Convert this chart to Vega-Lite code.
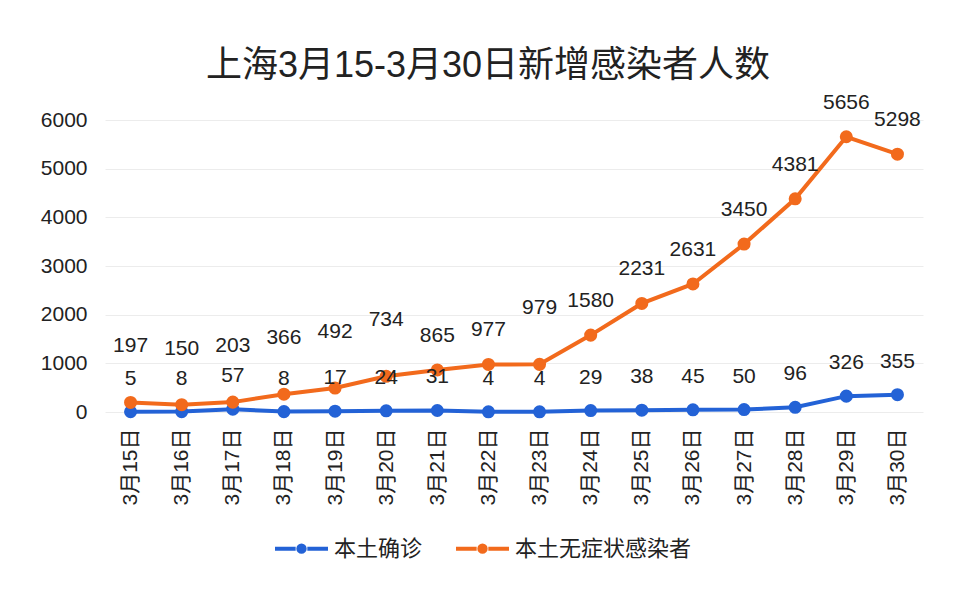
{
  "$schema": "https://vega.github.io/schema/vega-lite/v6.json",
  "width": 818,
  "height": 292,
  "autosize": {"type": "none"},
  "padding": {"left": 105, "top": 120, "right": 47, "bottom": 191},
  "background": "white",
  "title": {
    "text": "上海3月15-3月30日新增感染者人数",
    "font": "Liberation Sans, Noto Sans CJK SC",
    "fontSize": 36,
    "fontWeight": "normal",
    "color": "#222222",
    "anchor": "middle",
    "dx": -26,
    "offset": 7
  },
  "config": {
    "font": "Liberation Sans, Noto Sans CJK SC",
    "view": {"stroke": null}
  },
  "data": {
    "values": [
      {"date": "3月15日", "day": 15, "series": "本土确诊", "value": 5},
      {"date": "3月16日", "day": 16, "series": "本土确诊", "value": 8},
      {"date": "3月17日", "day": 17, "series": "本土确诊", "value": 57},
      {"date": "3月18日", "day": 18, "series": "本土确诊", "value": 8},
      {"date": "3月19日", "day": 19, "series": "本土确诊", "value": 17},
      {"date": "3月20日", "day": 20, "series": "本土确诊", "value": 24},
      {"date": "3月21日", "day": 21, "series": "本土确诊", "value": 31},
      {"date": "3月22日", "day": 22, "series": "本土确诊", "value": 4},
      {"date": "3月23日", "day": 23, "series": "本土确诊", "value": 4},
      {"date": "3月24日", "day": 24, "series": "本土确诊", "value": 29},
      {"date": "3月25日", "day": 25, "series": "本土确诊", "value": 38},
      {"date": "3月26日", "day": 26, "series": "本土确诊", "value": 45},
      {"date": "3月27日", "day": 27, "series": "本土确诊", "value": 50},
      {"date": "3月28日", "day": 28, "series": "本土确诊", "value": 96},
      {"date": "3月29日", "day": 29, "series": "本土确诊", "value": 326},
      {"date": "3月30日", "day": 30, "series": "本土确诊", "value": 355},
      {"date": "3月15日", "day": 15, "series": "本土无症状感染者", "value": 197},
      {"date": "3月16日", "day": 16, "series": "本土无症状感染者", "value": 150},
      {"date": "3月17日", "day": 17, "series": "本土无症状感染者", "value": 203},
      {"date": "3月18日", "day": 18, "series": "本土无症状感染者", "value": 366},
      {"date": "3月19日", "day": 19, "series": "本土无症状感染者", "value": 492},
      {"date": "3月20日", "day": 20, "series": "本土无症状感染者", "value": 734},
      {"date": "3月21日", "day": 21, "series": "本土无症状感染者", "value": 865},
      {"date": "3月22日", "day": 22, "series": "本土无症状感染者", "value": 977},
      {"date": "3月23日", "day": 23, "series": "本土无症状感染者", "value": 979},
      {"date": "3月24日", "day": 24, "series": "本土无症状感染者", "value": 1580},
      {"date": "3月25日", "day": 25, "series": "本土无症状感染者", "value": 2231},
      {"date": "3月26日", "day": 26, "series": "本土无症状感染者", "value": 2631},
      {"date": "3月27日", "day": 27, "series": "本土无症状感染者", "value": 3450},
      {"date": "3月28日", "day": 28, "series": "本土无症状感染者", "value": 4381},
      {"date": "3月29日", "day": 29, "series": "本土无症状感染者", "value": 5656},
      {"date": "3月30日", "day": 30, "series": "本土无症状感染者", "value": 5298}
    ]
  },
  "encoding": {
    "x": {
      "field": "date",
      "type": "ordinal",
      "sort": null,
      "scale": {"type": "point", "padding": 0.5},
      "axis": {
        "title": null,
        "labelAngle": -90,
        "labelFontSize": 21,
        "labelColor": "#222222",
        "labelPadding": 16,
        "domain": false,
        "ticks": false,
        "grid": false
      }
    },
    "y": {
      "field": "value",
      "type": "quantitative",
      "scale": {"domain": [0, 6000], "nice": false},
      "axis": {
        "title": null,
        "format": "d",
        "values": [0, 1000, 2000, 3000, 4000, 5000, 6000],
        "labelFontSize": 21,
        "labelColor": "#222222",
        "labelPadding": 18,
        "domain": false,
        "ticks": false,
        "gridColor": "#ececec",
        "gridWidth": 1
      }
    }
  },
  "layer": [
    {
      "transform": [{"filter": "datum.series === '本土确诊'"}],
      "mark": {"type": "line", "strokeWidth": 4},
      "encoding": {
        "color": {
          "field": "series",
          "type": "nominal",
          "scale": {"domain": ["本土确诊", "本土无症状感染者"], "range": ["#2362d6", "#f26a1c"]},
          "legend": {
            "title": null,
            "orient": "none",
            "legendX": 168,
            "legendY": 400,
            "direction": "horizontal",
            "labelFontSize": 22,
            "labelLimit": 400,
            "labelColor": "#222222",
            "symbolType": "M-1,0L-0.22,0M0.22,0L1,0M-0.12,0A0.12,0.12 0 1,1 0.12,0A0.12,0.12 0 1,1 -0.12,0",
            "symbolSize": 2809,
            "symbolStrokeWidth": 4,
            "labelOffset": 4,
            "columnPadding": 25
          }
        }
      }
    },
    {
      "transform": [{"filter": "datum.series === '本土确诊'"}],
      "mark": {"type": "point", "filled": true, "size": 170, "opacity": 1},
      "encoding": {"color": {"field": "series", "type": "nominal"}}
    },
    {
      "transform": [{"filter": "datum.series === '本土无症状感染者'"}],
      "mark": {"type": "line", "strokeWidth": 4},
      "encoding": {"color": {"field": "series", "type": "nominal"}}
    },
    {
      "transform": [{"filter": "datum.series === '本土无症状感染者'"}],
      "mark": {"type": "point", "filled": true, "size": 170, "opacity": 1},
      "encoding": {"color": {"field": "series", "type": "nominal"}}
    },
    {
      "transform": [{"filter": "datum.series === '本土确诊'"}],
      "mark": {"type": "text", "fontSize": 21, "color": "#222222", "dy": -33, "baseline": "middle"},
      "encoding": {"text": {"field": "value", "type": "quantitative"}}
    },
    {
      "transform": [{"filter": "datum.series === '本土无症状感染者' && (datum.day <= 20 || datum.day == 23)"}],
      "mark": {"type": "text", "fontSize": 21, "color": "#222222", "dy": -56, "baseline": "middle"},
      "encoding": {"text": {"field": "value", "type": "quantitative"}}
    },
    {
      "transform": [{"filter": "datum.series === '本土无症状感染者' && !(datum.day <= 20 || datum.day == 23)"}],
      "mark": {"type": "text", "fontSize": 21, "color": "#222222", "dy": -34, "baseline": "middle"},
      "encoding": {"text": {"field": "value", "type": "quantitative"}}
    }
  ]
}
